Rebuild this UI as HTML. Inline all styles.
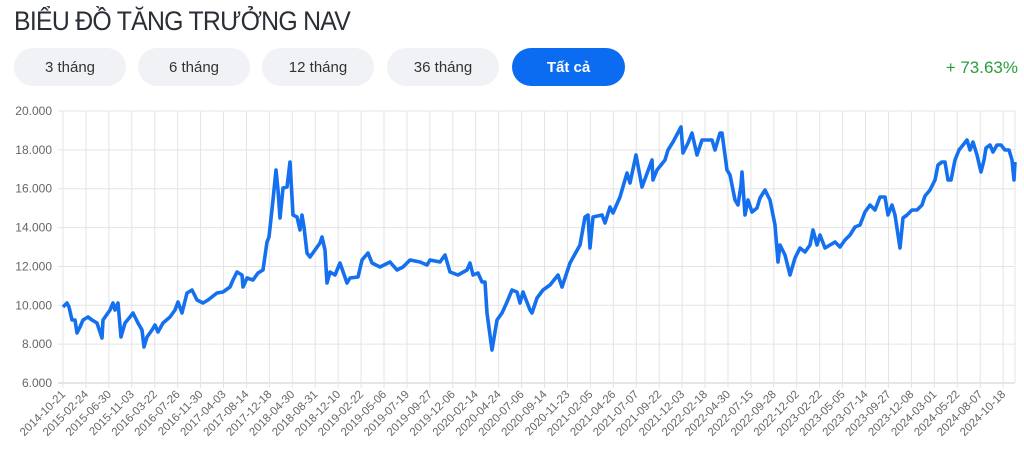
<!DOCTYPE html>
<html><head><meta charset="utf-8"><style>
body{margin:0;width:1024px;height:451px;background:#fff;font-family:"Liberation Sans",sans-serif;overflow:hidden;position:relative}
.t{position:absolute;left:14px;top:6px;font-size:27px;color:#2a2f36;letter-spacing:-0.8px;transform:scaleX(0.92);transform-origin:left}
.b{position:absolute;top:48px;height:38px;width:112px;border-radius:19px;background:#f0f2f5;color:#333;font-size:15px;line-height:40px;text-align:center}
.a{background:#0b6cf2;color:#fff;font-weight:bold}
.p{position:absolute;right:6px;top:58px;font-size:17px;color:#2a9d3e}
svg{position:absolute;left:0;top:0}
</style></head><body>
<div class="t">BIỂU ĐỒ TĂNG TRƯỞNG NAV</div>
<div class="b" style="left:14px">3 tháng</div>
<div class="b" style="left:138px">6 tháng</div>
<div class="b" style="left:262px">12 tháng</div>
<div class="b" style="left:387px">36 tháng</div>
<div class="b a" style="left:512px;width:113px">Tất cả</div>
<div class="p">+ 73.63%</div>
<svg width="1024" height="451" xmlns="http://www.w3.org/2000/svg">
<g id="g" stroke="#e4e4e4" stroke-width="1"></g>
<g id="yl" font-size="12" fill="#666" text-anchor="end"></g>
<g id="xl" font-size="11.5" fill="#666" text-anchor="end"></g>
<polyline fill="none" stroke="#1570ef" stroke-width="3.6" stroke-linejoin="round" points="63,307 67,303 69,307 72,320 75,320 77,333 80,327 83,320 88,317 92,320 97,323 102,338 103,320 110,310 113,303 115,310 118,303 121,337 125,323 130,317 133,313 138,323 142,330 144,347 147,337 152,330 155,325 158,332 163,323 170,317 175,310 178,302 182,313 187,293 192,290 197,300 203,303 208,300 217,293 223,292 230,287 233,280 237,272 242,275 243,287 247,278 253,280 258,273 263,270 267,242 269,237 273,200 276,170 278,190 280,218 283,188 287,187 290,162 293,215 297,217 300,230 302,215 304,227 307,253 310,257 315,250 320,243 322,237 325,250 327,283 330,272 335,275 340,263 347,283 350,278 358,277 362,260 368,253 372,263 380,267 390,262 397,270 403,267 410,260 420,262 427,265 430,260 440,262 445,255 450,272 458,275 467,270 470,263 473,275 478,273 482,282 485,282 487,313 492,350 497,320 502,313 507,302 512,290 517,292 520,303 523,292 530,310 532,313 537,298 543,290 550,285 558,275 562,287 570,263 580,245 585,217 588,215 590,248 593,217 602,215 605,223 610,207 613,213 620,197 627,173 630,183 636,155 642,187 652,160 653,180 657,170 665,160 668,150 673,142 681,127 683,153 688,143 692,133 697,155 702,140 712,140 715,150 720,133 722,133 727,170 730,175 735,200 738,205 741,185 742,172 745,215 748,200 752,212 757,208 760,198 765,190 770,200 775,225 778,262 780,245 785,255 790,275 795,258 800,248 805,252 810,245 813,230 817,245 820,235 825,248 830,245 835,242 840,247 845,240 850,235 855,227 860,225 865,212 870,205 875,210 880,197 885,197 888,215 892,205 895,215 900,248 903,218 907,215 912,210 917,210 922,205 925,196 930,190 935,180 938,165 942,162 945,162 948,180 951,180 955,160 959,150 963,145 967,140 970,150 973,142 977,155 981,172 984,160 986,148 990,145 993,152 997,145 1001,145 1005,150 1009,150 1012,160 1014,180 1015,162"/>
</svg>
<script>
var ns="http://www.w3.org/2000/svg",g=document.getElementById("g"),yl=document.getElementById("yl"),xl=document.getElementById("xl");
function el(p,t,a,txt){var e=document.createElementNS(ns,t);for(var k in a)e.setAttribute(k,a[k]);if(txt)e.textContent=txt;p.appendChild(e);}
var ys=["20.000","18.000","16.000","14.000","12.000","10.000","8.000","6.000"];
for(var i=0;i<8;i++){var y=111+i*38.86;el(g,"line",{x1:58,x2:1015,y1:y,y2:y,stroke:i==7?"#ccc":"#e4e4e4"});el(yl,"text",{x:52,y:y+4},ys[i]);}
var d="2014-10-21,2015-02-24,2015-06-30,2015-11-03,2016-03-22,2016-07-26,2016-11-30,2017-04-03,2017-08-14,2017-12-18,2018-04-30,2018-08-31,2018-12-10,2019-02-22,2019-05-06,2019-07-19,2019-09-27,2019-12-06,2020-02-14,2020-04-24,2020-07-06,2020-09-14,2020-11-23,2021-02-05,2021-04-26,2021-07-07,2021-09-22,2021-12-03,2022-02-18,2022-04-30,2022-07-15,2022-09-28,2022-12-02,2023-02-22,2023-05-05,2023-07-14,2023-09-27,2023-12-08,2024-03-01,2024-05-22,2024-08-07,2024-10-18".split(",");
for(var j=0;j<d.length;j++){var x=63+j*22.93;el(g,"line",{x1:x,x2:x,y1:111,y2:388});el(xl,"text",{x:x+3,y:395,transform:"rotate(-45 "+(x+3)+" 395)"},d[j]);}
el(g,"line",{x1:1015,x2:1015,y1:111,y2:383});
</script>
</body></html>
